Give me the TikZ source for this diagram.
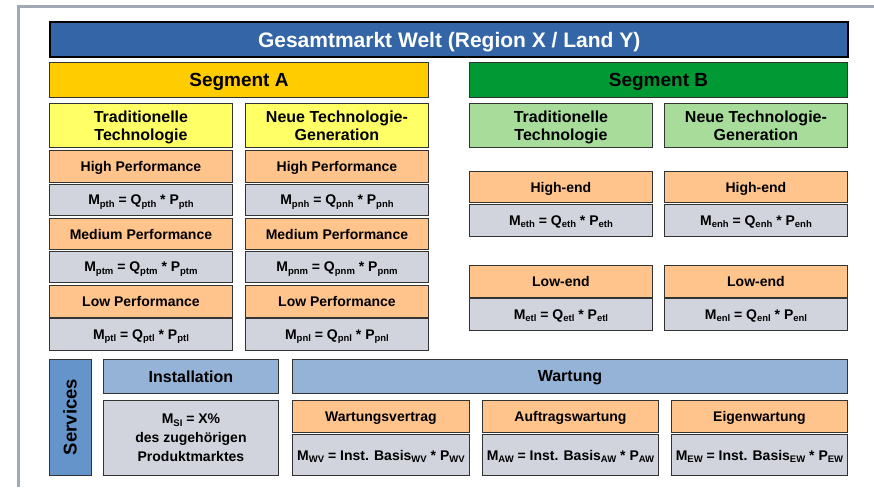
\documentclass[tikz,border=0pt]{standalone}
\usepackage{fontspec}
\setmainfont{Liberation Sans}
\definecolor{titleblue}{HTML}{3465A6}
\definecolor{segA}{HTML}{FFCC00}
\definecolor{segB}{HTML}{009933}
\definecolor{yel}{HTML}{FFFF66}
\definecolor{lgreen}{HTML}{A8DC9B}
\definecolor{orng}{HTML}{FFC38C}
\definecolor{gry}{HTML}{D1D4DC}
\definecolor{servblue}{HTML}{6494CA}
\definecolor{lblue}{HTML}{95B3D7}
\definecolor{framegray}{HTML}{A1A9B4}
\definecolor{edge}{HTML}{333333}
\newcommand\mysub[1]{\raisebox{-0.3ex}{\fontsize{9.5}{9.5}\selectfont #1}}
\newcommand\bx[7]{\node[#6, anchor=north west, minimum width={(#4-#2)*1pt}, minimum height={(#5-#3)*1pt}] (#1) at (#2,#3) {#7};}
\tikzset{
  base/.style={draw=edge, line width=0.9pt, inner sep=0pt, text depth=0pt, align=center, font=\bfseries\fontsize{14}{16}\selectfont},
  titlebox/.style={base, draw=black, line width=2.4pt, fill=titleblue, text=white, font=\bfseries\fontsize{21}{24}\selectfont},
  segabox/.style={base, fill=segA, font=\bfseries\fontsize{19}{22}\selectfont},
  segbbox/.style={base, fill=segB, font=\bfseries\fontsize{19}{22}\selectfont},
  techa/.style={base, fill=yel, font=\bfseries\fontsize{16}{18}\selectfont},
  techb/.style={base, fill=lgreen, font=\bfseries\fontsize{16}{18}\selectfont},
  perfbox/.style={base, fill=orng},
  formbox/.style={base, fill=gry},
  servbox/.style={base, fill=servblue},
  headbox/.style={base, fill=lblue, font=\bfseries\fontsize{16}{18}\selectfont},
}
\begin{document}
\begin{tikzpicture}[x=1pt,y=-1pt]
\useasboundingbox (0,0) rectangle (874,487);
\coordinate (fa) at (18.5,487);
\coordinate (fb) at (18.5,6.7);
\coordinate (fc) at (874,6.7);
\draw[framegray, line width=3.4pt] (fa) -- (fb) -- (fc);
\bx{title}{49}{21}{847}{56}{titlebox}{Gesamtmarkt Welt (Region X / Land Y)}
\bx{sa}{49}{62}{428}{97}{segabox}{Segment A}
\bx{sb}{469}{62}{847}{97}{segbbox}{Segment B}
\bx{ta}{49}{103}{232}{147}{techa}{Traditionelle\\Technologie}
\bx{na}{245}{103}{428}{147}{techa}{Neue Technologie-\\Generation}
\bx{tb}{469}{103}{652}{147}{techb}{Traditionelle\\Technologie}
\bx{nb}{664}{103}{847}{147}{techb}{Neue Technologie-\\Generation}
% Segment A, traditionelle
\bx{tah}{49}{150}{232}{182}{perfbox}{High Performance}
\bx{tahf}{49}{184}{232}{215}{formbox}{M\mysub{pth} = Q\mysub{pth} * P\mysub{pth}}
\bx{tam}{49}{218}{232}{249}{perfbox}{Medium Performance}
\bx{tamf}{49}{251}{232}{282}{formbox}{M\mysub{ptm} = Q\mysub{ptm} * P\mysub{ptm}}
\bx{tal}{49}{285}{232}{317}{perfbox}{Low Performance}
\bx{talf}{49}{318}{232}{350}{formbox}{M\mysub{ptl} = Q\mysub{ptl} * P\mysub{ptl}}
% Segment A, neue
\bx{nah}{245}{150}{428}{182}{perfbox}{High Performance}
\bx{nahf}{245}{184}{428}{215}{formbox}{M\mysub{pnh} = Q\mysub{pnh} * P\mysub{pnh}}
\bx{nam}{245}{218}{428}{249}{perfbox}{Medium Performance}
\bx{namf}{245}{251}{428}{282}{formbox}{M\mysub{pnm} = Q\mysub{pnm} * P\mysub{pnm}}
\bx{nal}{245}{285}{428}{317}{perfbox}{Low Performance}
\bx{nalf}{245}{318}{428}{350}{formbox}{M\mysub{pnl} = Q\mysub{pnl} * P\mysub{pnl}}
% Segment B
\bx{tbh}{469}{171}{652}{202}{perfbox}{High-end}
\bx{tbhf}{469}{204}{652}{236}{formbox}{M\mysub{eth} = Q\mysub{eth} * P\mysub{eth}}
\bx{tbl}{469}{265}{652}{297}{perfbox}{Low-end}
\bx{tblf}{469}{298}{652}{330}{formbox}{M\mysub{etl} = Q\mysub{etl} * P\mysub{etl}}
\bx{nbh}{664}{171}{847}{202}{perfbox}{High-end}
\bx{nbhf}{664}{204}{847}{236}{formbox}{M\mysub{enh} = Q\mysub{enh} * P\mysub{enh}}
\bx{nbl}{664}{265}{847}{297}{perfbox}{Low-end}
\bx{nblf}{664}{298}{847}{330}{formbox}{M\mysub{enl} = Q\mysub{enl} * P\mysub{enl}}
% Services
\node[servbox, minimum width=116pt, minimum height=42pt, rotate=90, font=\bfseries\fontsize{18.5}{20}\selectfont] (serv) at (70,417) {Services};
\bx{inst}{103}{359}{278}{393}{headbox}{Installation}
\bx{msi}{103}{400}{278}{475}{formbox, font=\bfseries\fontsize{14}{19}\selectfont}{M\mysub{SI} = X\%\\des zugehörigen\\Produktmarktes}
\bx{wart}{292}{359}{847}{393}{headbox}{Wartung}
\bx{wv}{292}{400}{469}{432}{perfbox}{Wartungsvertrag}
\bx{wvf}{292}{434}{469}{475}{formbox}{M\mysub{WV} = Inst. Basis\mysub{WV} * P\mysub{WV}}
\bx{aw}{482}{400}{658}{432}{perfbox}{Auftragswartung}
\bx{awf}{482}{434}{658}{475}{formbox}{M\mysub{AW} = Inst. Basis\mysub{AW} * P\mysub{AW}}
\bx{ew}{671}{400}{847}{432}{perfbox}{Eigenwartung}
\bx{ewf}{671}{434}{847}{475}{formbox}{M\mysub{EW} = Inst. Basis\mysub{EW} * P\mysub{EW}}
\end{tikzpicture}
\end{document}
